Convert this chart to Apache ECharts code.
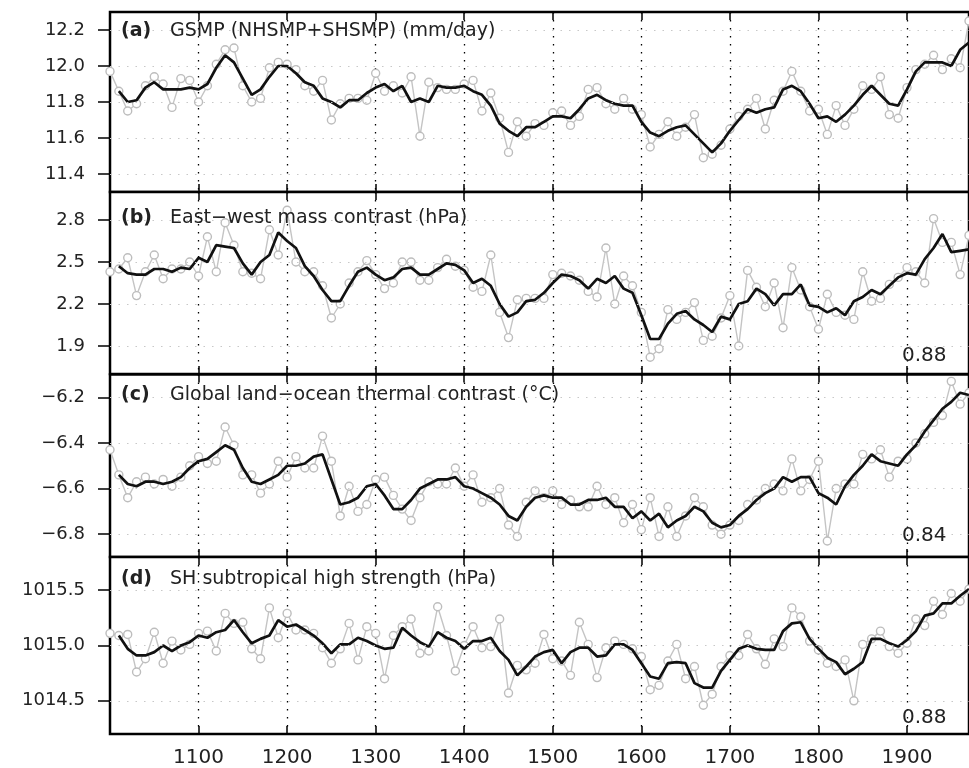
<!DOCTYPE html>
<html>
<head>
<meta charset="utf-8">
<script src="https://cdn.jsdelivr.net/npm/echarts@6/dist/echarts.min.js"></script>
<style>
  html, body { margin: 0; padding: 0; background: #fff; }
  #chart { width: 969px; height: 768px; }
</style>
</head>
<body>
<div id="chart"></div>
<script>
// decadal time axis
const years = [
  1000, 1010, 1020, 1030, 1040, 1050, 1060, 1070, 1080, 1090,
  1100, 1110, 1120, 1130, 1140, 1150, 1160, 1170, 1180, 1190,
  1200, 1210, 1220, 1230, 1240, 1250, 1260, 1270, 1280, 1290,
  1300, 1310, 1320, 1330, 1340, 1350, 1360, 1370, 1380, 1390,
  1400, 1410, 1420, 1430, 1440, 1450, 1460, 1470, 1480, 1490,
  1500, 1510, 1520, 1530, 1540, 1550, 1560, 1570, 1580, 1590,
  1600, 1610, 1620, 1630, 1640, 1650, 1660, 1670, 1680, 1690,
  1700, 1710, 1720, 1730, 1740, 1750, 1760, 1770, 1780, 1790,
  1800, 1810, 1820, 1830, 1840, 1850, 1860, 1870, 1880, 1890,
  1900, 1910, 1920, 1930, 1940, 1950, 1960, 1970
]
const xTicks = [1100, 1200, 1300, 1400, 1500, 1600, 1700, 1800, 1900]

// (a) GSMP
const gsmpRaw = [
  11.97, 11.86, 11.75, 11.79, 11.89, 11.94, 11.90, 11.77, 11.93, 11.92,
  11.80, 11.89, 12.01, 12.09, 12.10, 11.89, 11.80, 11.82, 11.99, 12.02,
  12.01, 11.98, 11.89, 11.86, 11.92, 11.70, 11.79, 11.82, 11.82, 11.81,
  11.96, 11.86, 11.89, 11.85, 11.94, 11.61, 11.91, 11.88, 11.87, 11.87,
  11.90, 11.92, 11.75, 11.85, 11.71, 11.52, 11.69, 11.61, 11.68, 11.67,
  11.74, 11.75, 11.67, 11.72, 11.87, 11.88, 11.79, 11.76, 11.82, 11.76,
  11.73, 11.55, 11.62, 11.69, 11.61, 11.66, 11.73, 11.49, 11.51, 11.56,
  11.65, 11.72, 11.76, 11.82, 11.65, 11.81, 11.86, 11.97, 11.86, 11.75,
  11.76, 11.62, 11.78, 11.67, 11.76, 11.89, 11.87, 11.94, 11.73, 11.71,
  11.88, 11.98, 12.01, 12.06, 11.98, 12.04, 11.99, 12.25
]
const gsmpSmooth = [
  null, 11.86, 11.80, 11.81, 11.88, 11.91, 11.87, 11.87, 11.87, 11.88,
  11.87, 11.90, 11.99, 12.06, 12.02, 11.93, 11.84, 11.87, 11.94, 12.00,
  12.00, 11.96, 11.91, 11.89, 11.82, 11.80, 11.77, 11.81, 11.81, 11.85,
  11.88, 11.90, 11.86, 11.89, 11.80, 11.82, 11.80, 11.89, 11.88, 11.88,
  11.89, 11.86, 11.84, 11.78, 11.68, 11.64, 11.61, 11.66, 11.66, 11.69,
  11.72, 11.72, 11.71, 11.76, 11.82, 11.84, 11.81, 11.79, 11.78, 11.78,
  11.69, 11.63, 11.61, 11.64, 11.66, 11.67, 11.62, 11.57, 11.52, 11.57,
  11.64, 11.70, 11.76, 11.74, 11.76, 11.77, 11.87, 11.89, 11.86, 11.79,
  11.71, 11.72, 11.69, 11.73, 11.78, 11.84, 11.89, 11.84, 11.79, 11.78,
  11.87, 11.97, 12.02, 12.02, 12.02, 12.00, 12.09, 12.13
]

// (b) east-west mass contrast
const massRaw = [
  2.43, 2.45, 2.53, 2.26, 2.43, 2.55, 2.38, 2.45, 2.45, 2.50,
  2.40, 2.68, 2.43, 2.78, 2.62, 2.43, 2.42, 2.38, 2.73, 2.55,
  2.87, 2.50, 2.43, 2.43, 2.33, 2.10, 2.20, 2.35, 2.43, 2.51,
  2.41, 2.31, 2.35, 2.50, 2.50, 2.37, 2.37, 2.46, 2.52, 2.47,
  2.44, 2.32, 2.29, 2.55, 2.14, 1.96, 2.23, 2.24, 2.24, 2.24,
  2.41, 2.42, 2.40, 2.37, 2.29, 2.25, 2.60, 2.20, 2.40, 2.33,
  2.14, 1.82, 1.88, 2.16, 2.09, 2.14, 2.21, 1.94, 1.97, 2.10,
  2.26, 1.90, 2.44, 2.32, 2.18, 2.35, 2.03, 2.46, 2.30, 2.18,
  2.02, 2.27, 2.14, 2.12, 2.09, 2.43, 2.22, 2.24, 2.34, 2.39,
  2.46, 2.43, 2.35, 2.81, 2.64, 2.64, 2.41, 2.69
]
const massSmooth = [
  null, 2.47, 2.42, 2.41, 2.41, 2.45, 2.45, 2.43, 2.46, 2.45,
  2.53, 2.50, 2.62, 2.61, 2.60, 2.49, 2.41, 2.50, 2.55, 2.71,
  2.65, 2.60, 2.47, 2.40, 2.30, 2.22, 2.22, 2.33, 2.43, 2.46,
  2.41, 2.37, 2.39, 2.45, 2.46, 2.41, 2.41, 2.45, 2.49, 2.48,
  2.44, 2.35, 2.38, 2.33, 2.20, 2.11, 2.14, 2.22, 2.23, 2.28,
  2.35, 2.41, 2.40, 2.37, 2.31, 2.38, 2.35, 2.40, 2.31, 2.28,
  2.12, 1.95, 1.95, 2.06, 2.13, 2.15, 2.09, 2.05, 2.00, 2.11,
  2.09, 2.20, 2.22, 2.31, 2.27, 2.19, 2.27, 2.27, 2.34, 2.19,
  2.18, 2.14, 2.17, 2.12, 2.22, 2.25, 2.30, 2.27, 2.33, 2.39,
  2.42, 2.41, 2.52, 2.60, 2.70, 2.57, 2.58, 2.59
]

// (c) global land-ocean thermal contrast
const thermRaw = [
  -6.43, -6.54, -6.64, -6.57, -6.55, -6.58, -6.56, -6.59, -6.55, -6.50,
  -6.46, -6.49, -6.48, -6.33, -6.41, -6.54, -6.54, -6.62, -6.58, -6.48,
  -6.55, -6.46, -6.51, -6.51, -6.37, -6.48, -6.72, -6.59, -6.70, -6.67,
  -6.56, -6.55, -6.63, -6.69, -6.74, -6.64, -6.57, -6.58, -6.58, -6.51,
  -6.59, -6.54, -6.66, -6.64, -6.60, -6.76, -6.81, -6.66, -6.61, -6.64,
  -6.61, -6.67, -6.65, -6.68, -6.68, -6.59, -6.67, -6.64, -6.75, -6.67,
  -6.78, -6.64, -6.81, -6.68, -6.81, -6.72, -6.64, -6.68, -6.76, -6.80,
  -6.76, -6.74, -6.67, -6.65, -6.60, -6.58, -6.61, -6.47, -6.61, -6.56,
  -6.48, -6.83, -6.60, -6.58, -6.58, -6.45, -6.47, -6.43, -6.55, -6.48,
  -6.47, -6.40, -6.36, -6.31, -6.28, -6.13, -6.23, -6.18
]
const thermSmooth = [
  null, -6.54, -6.58, -6.59, -6.57, -6.57, -6.58, -6.57, -6.55, -6.51,
  -6.48, -6.47, -6.44, -6.41, -6.43, -6.51, -6.57, -6.58, -6.56, -6.54,
  -6.50, -6.50, -6.49, -6.46, -6.45, -6.56, -6.67, -6.66, -6.64, -6.59,
  -6.58, -6.63, -6.69, -6.69, -6.65, -6.60, -6.58, -6.56, -6.56, -6.55,
  -6.59, -6.60, -6.62, -6.64, -6.67, -6.72, -6.74, -6.68, -6.64, -6.63,
  -6.64, -6.64, -6.67, -6.67, -6.65, -6.65, -6.64, -6.68, -6.68, -6.73,
  -6.70, -6.74, -6.71, -6.77, -6.74, -6.72, -6.68, -6.70, -6.75, -6.77,
  -6.76, -6.72, -6.69, -6.65, -6.62, -6.60, -6.55, -6.57, -6.55, -6.55,
  -6.62, -6.64, -6.67, -6.59, -6.54, -6.50, -6.45, -6.48, -6.49, -6.50,
  -6.45, -6.41, -6.35, -6.30, -6.25, -6.22, -6.18, -6.19
]

// (d) SH subtropical high strength
const shRaw = [
  1015.11, 1015.09, 1015.10, 1014.76, 1014.88, 1015.12, 1014.84, 1015.04, 1014.96, 1015.01,
  1015.11, 1015.13, 1014.95, 1015.29, 1015.20, 1015.21, 1014.97, 1014.88, 1015.34, 1015.07,
  1015.29, 1015.14, 1015.14, 1015.11, 1014.98, 1014.84, 1014.97, 1015.20, 1014.87, 1015.17,
  1015.11, 1014.70, 1015.09, 1015.17, 1015.24, 1014.93, 1014.95, 1015.35, 1015.09, 1014.77,
  1015.00, 1015.17, 1014.98, 1014.99, 1015.24, 1014.57, 1014.82, 1014.78, 1014.84, 1015.10,
  1014.88, 1014.86, 1014.73, 1015.21, 1015.01, 1014.71, 1014.98, 1015.04, 1015.01, 1014.97,
  1014.90, 1014.60, 1014.64, 1014.86, 1015.01, 1014.70, 1014.81, 1014.46, 1014.56, 1014.81,
  1014.91, 1014.91, 1015.10, 1014.97, 1014.83, 1015.06, 1014.99, 1015.34, 1015.26, 1015.04,
  1014.96, 1014.84, 1014.81, 1014.87, 1014.50, 1015.01, 1015.06, 1015.13, 1014.99, 1014.93,
  1015.02, 1015.24, 1015.18, 1015.40, 1015.28, 1015.47, 1015.40, 1015.51
]
const shSmooth = [
  null, 1015.09, 1014.97, 1014.91, 1014.91, 1014.94, 1015.00, 1014.95, 1015.00, 1015.03,
  1015.09, 1015.07, 1015.12, 1015.14, 1015.23, 1015.12, 1015.02, 1015.06, 1015.09, 1015.23,
  1015.17, 1015.19, 1015.14, 1015.09, 1015.02, 1014.93, 1015.01, 1015.01, 1015.07, 1015.04,
  1015.00, 1014.97, 1014.98, 1015.16, 1015.09, 1015.03, 1014.99, 1015.12, 1015.07, 1015.04,
  1014.97, 1015.04, 1015.04, 1015.07, 1014.95, 1014.87, 1014.73, 1014.81, 1014.90, 1014.94,
  1014.96, 1014.84, 1014.94, 1014.98, 1014.98, 1014.90, 1014.91, 1015.01, 1015.01, 1014.96,
  1014.84, 1014.72, 1014.70, 1014.84, 1014.85, 1014.84, 1014.66, 1014.62, 1014.62, 1014.77,
  1014.87, 1014.97, 1015.00, 1014.97, 1014.96, 1014.96, 1015.13, 1015.20, 1015.21, 1015.06,
  1014.97, 1014.89, 1014.85, 1014.74, 1014.79, 1014.85, 1015.06, 1015.06, 1015.02, 1014.99,
  1015.05, 1015.13, 1015.27, 1015.29, 1015.38, 1015.38, 1015.45, 1015.51
]

const ticksA = [11.4, 11.6, 11.8, 12.0, 12.2]
const ticksB = [1.9, 2.2, 2.5, 2.8]
const ticksC = [-6.8, -6.6, -6.4, -6.2]
const ticksD = [1014.5, 1015.0, 1015.5]

const panels = [
  { tag: '(a)', title: 'GSMP (NHSMP+SHSMP) (mm/day)', raw: gsmpRaw, smooth: gsmpSmooth, ticks: ticksA, min: 11.3, max: 12.3, corr: '' },
  { tag: '(b)', title: 'East\u2212west mass contrast (hPa)', raw: massRaw, smooth: massSmooth, ticks: ticksB, min: 1.7, max: 3.0, corr: '0.88' },
  { tag: '(c)', title: 'Global land\u2212ocean thermal contrast (\u00B0C)', raw: thermRaw, smooth: thermSmooth, ticks: ticksC, min: -6.9, max: -6.1, corr: '0.84' },
  { tag: '(d)', title: 'SH subtropical high strength (hPa)', raw: shRaw, smooth: shSmooth, ticks: ticksD, min: 1014.2, max: 1015.8, corr: '0.88' }
]

const FONT = 'DejaVu Sans'
const tops = [12, 192, 374.5, 557]
const heights = [180, 182, 182.5, 180.5]
const titleY = [31, 218, 395, 579]
const corrY = [0, 356, 536, 718]

const grids = []
const xAxes = []
const yAxes = []
const series = []
const graphics = []

panels.forEach((p, i) => {
  grids.push({
    left: 110, top: tops[i], width: 860, height: heights[i],
    show: true, borderColor: '#000', borderWidth: 2.5, backgroundColor: '#fff'
  })
  // bottom axis: dotted century lines + inward ticks (labels only on last panel)
  xAxes.push({
    type: 'value', gridIndex: i, min: 1000, max: 1970, interval: 100, position: 'bottom',
    axisLine: { show: false },
    axisTick: { show: true, inside: true, length: 8, customValues: xTicks, lineStyle: { color: '#000', width: 1.5 } },
    axisLabel: {
      show: i === 3, customValues: xTicks, margin: 14,
      fontFamily: FONT, fontSize: 20, color: '#222',
      formatter: v => String(v)
    },
    splitLine: { show: true, lineStyle: { color: '#000', width: 1.3, type: [1.5, 6.5] } }
  })
  // top axis: inward ticks only
  xAxes.push({
    type: 'value', gridIndex: i, min: 1000, max: 1970, interval: 100, position: 'top',
    axisLine: { show: false },
    axisTick: { show: true, inside: true, length: 8, customValues: xTicks, lineStyle: { color: '#000', width: 1.5 } },
    axisLabel: { show: false },
    splitLine: { show: false }
  })
  yAxes.push({
    type: 'value', gridIndex: i, min: p.min, max: p.max,
    axisLine: { show: false },
    axisTick: { show: true, inside: false, length: 12, customValues: p.ticks, lineStyle: { color: '#000', width: 1.5 } },
    axisLabel: {
      customValues: p.ticks, margin: 25, fontFamily: FONT, fontSize: 18, color: '#222',
      formatter: v => v.toFixed(1).replace('-', '\u2212')
    },
    splitLine: { show: false }
  })
  series.push({
    type: 'line', xAxisIndex: 2 * i, yAxisIndex: i,
    data: years.map((y, k) => [y, p.raw[k]]),
    symbol: 'circle', symbolSize: 8, showSymbol: true,
    itemStyle: { color: '#fff', borderColor: '#bdbdbd', borderWidth: 1.4 },
    lineStyle: { color: '#c4c4c4', width: 1.4 },
    emphasis: { disabled: true },
    z: 2,
    markLine: {
      silent: true, symbol: 'none', label: { show: false }, animation: false,
      lineStyle: { color: '#c8c8c8', width: 1.2, type: [1.5, 7] },
      data: p.ticks.map(v => ({ yAxis: v }))
    }
  })
  series.push({
    type: 'line', xAxisIndex: 2 * i, yAxisIndex: i,
    data: years.map((y, k) => [y, p.smooth[k]]),
    symbol: 'none', lineStyle: { color: '#111', width: 2.7 },
    emphasis: { disabled: true },
    z: 3
  })
  graphics.push({
    type: 'text', x: 121, y: titleY[i], z: 10,
    style: { text: p.tag, fontFamily: FONT, fontWeight: 'bold', fontSize: 19, fill: '#222', verticalAlign: 'middle' }
  })
  graphics.push({
    type: 'text', x: 170, y: titleY[i], z: 10,
    style: { text: p.title, fontFamily: FONT, fontSize: 19, fill: '#222', verticalAlign: 'middle' }
  })
  if (p.corr) {
    graphics.push({
      type: 'text', x: 902, y: corrY[i], z: 10,
      style: { text: p.corr, fontFamily: FONT, fontSize: 20, fill: '#222', verticalAlign: 'middle' }
    })
  }
})

const chart = echarts.init(document.getElementById('chart'))
chart.setOption({
  animation: false,
  backgroundColor: '#fff',
  grid: grids,
  xAxis: xAxes,
  yAxis: yAxes,
  series: series,
  graphic: graphics
})
</script>
</body>
</html>
